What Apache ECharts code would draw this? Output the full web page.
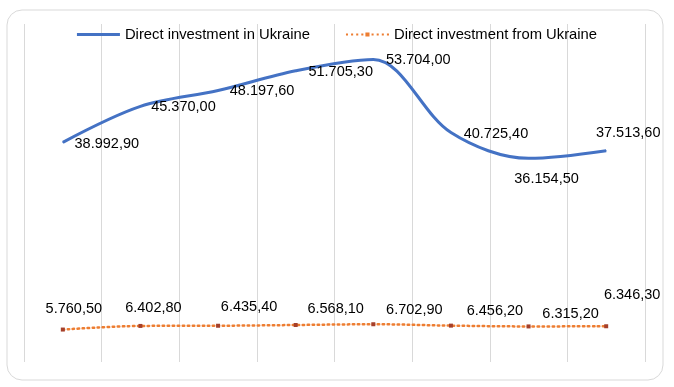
<!DOCTYPE html>
<html>
<head>
<meta charset="utf-8">
<script src="https://cdn.jsdelivr.net/npm/echarts@6/dist/echarts.min.js"></script>
<style>
html,body{margin:0;padding:0;background:#fff;}
#chart{width:674px;height:387px;}
</style>
</head>
<body>
<div id="chart"></div>
<script>
const categories = ['1','2','3','4','5','6','7','8'];
const seriesNames = ['Direct investment in Ukraine', 'Direct investment from Ukraine'];
const investIn = [38992.9, 45370.0, 48197.6, 51705.3, 53704.0, 40725.4, 36154.5, 37513.6];
const investFrom = [5760.5, 6402.8, 6435.4, 6568.1, 6702.9, 6456.2, 6315.2, 6346.3];

// label placement offsets (layout only)
const offsIn = [[44,2],[43,1],[44,1],[45,1],[45,1],[45,1],[18,21],[22,-18]];
const offsFrom = [[11,-21],[13,-18],[31,-19],[40,-16],[41,-14],[44,-15],[42,-12],[26,-31]];

const FONT = 'Liberation Sans';
function fmt(v){
  const s = v.toFixed(2);
  const parts = s.split('.');
  const int = parts[0].replace(/\B(?=(\d{3})+(?!\d))/g, '.');
  return int + ',' + parts[1];
}
function build(values, offs){
  return values.map((v,i)=>({
    value: v,
    label: {offset: offs[i]}
  }));
}
// legend icon paths
const solidIcon = 'path://M0,0L43,0L43,3L0,3Z';
let dots = '';
for (let x = 0; x <= 41; x += 5) {
  if (x === 20) continue;
  dots += 'M' + x + ',1L' + (x+2) + ',1L' + (x+2) + ',3L' + x + ',3Z';
}
dots += 'M19,0L23,0L23,4L19,4Z';
const dotIcon = 'path://' + dots;

const chart = echarts.init(document.getElementById('chart'), null, {renderer:'canvas'});
chart.setOption({
  animation:false,
  backgroundColor:'#ffffff',
  graphic:[{
    type:'rect',
    shape:{x:7,y:10,width:656,height:370,r:15},
    style:{fill:'none',stroke:'#d9d9d9',lineWidth:1},
    z:-10
  }],
  legend:{
    top:22,
    left:'center',
    itemWidth:43,
    itemHeight:14,
    itemGap:36,
    textStyle:{fontFamily:FONT,fontSize:14.8,color:'#000'},
    data:[
      {name:seriesNames[0],icon:solidIcon,itemStyle:{color:'#4472C4'}},
      {name:seriesNames[1],icon:dotIcon,itemStyle:{color:'#ED7D31'}}
    ]
  },
  grid:{left:24,right:29,top:24,bottom:25,containLabel:false},
  xAxis:{
    type:'category',
    data:categories,
    boundaryGap:true,
    axisLine:{show:false},
    axisTick:{show:false},
    axisLabel:{show:false},
    splitLine:{show:true,lineStyle:{color:'#d9d9d9',width:1}}
  },
  yAxis:{
    type:'value',
    min:0,max:60000,
    axisLine:{show:false},
    axisTick:{show:false},
    axisLabel:{show:false},
    splitLine:{show:false}
  },
  series:[
    {
      name:seriesNames[0],
      type:'line',
      smooth:0.33,
      symbol:'circle',
      symbolSize:1,
      showSymbol:true,
      lineStyle:{color:'#4472C4',width:3},
      itemStyle:{color:'#4472C4'},
      label:{show:true,position:'inside',align:'center',verticalAlign:'middle',
        fontFamily:FONT,fontSize:14.5,color:'#000',
        formatter:p=>fmt(p.value)},
      data:build(investIn, offsIn)
    },
    {
      name:seriesNames[1],
      type:'line',
      smooth:0.33,
      symbol:'rect',
      symbolSize:4,
      showSymbol:true,
      lineStyle:{color:'#ED7D31',width:2.5,type:[1.5,3.5],cap:'round'},
      itemStyle:{color:'#A5402B',borderWidth:0},
      label:{show:true,position:'inside',align:'center',verticalAlign:'middle',
        fontFamily:FONT,fontSize:14.5,color:'#000',
        formatter:p=>fmt(p.value)},
      data:build(investFrom, offsFrom)
    }
  ]
});
</script>
</body>
</html>
